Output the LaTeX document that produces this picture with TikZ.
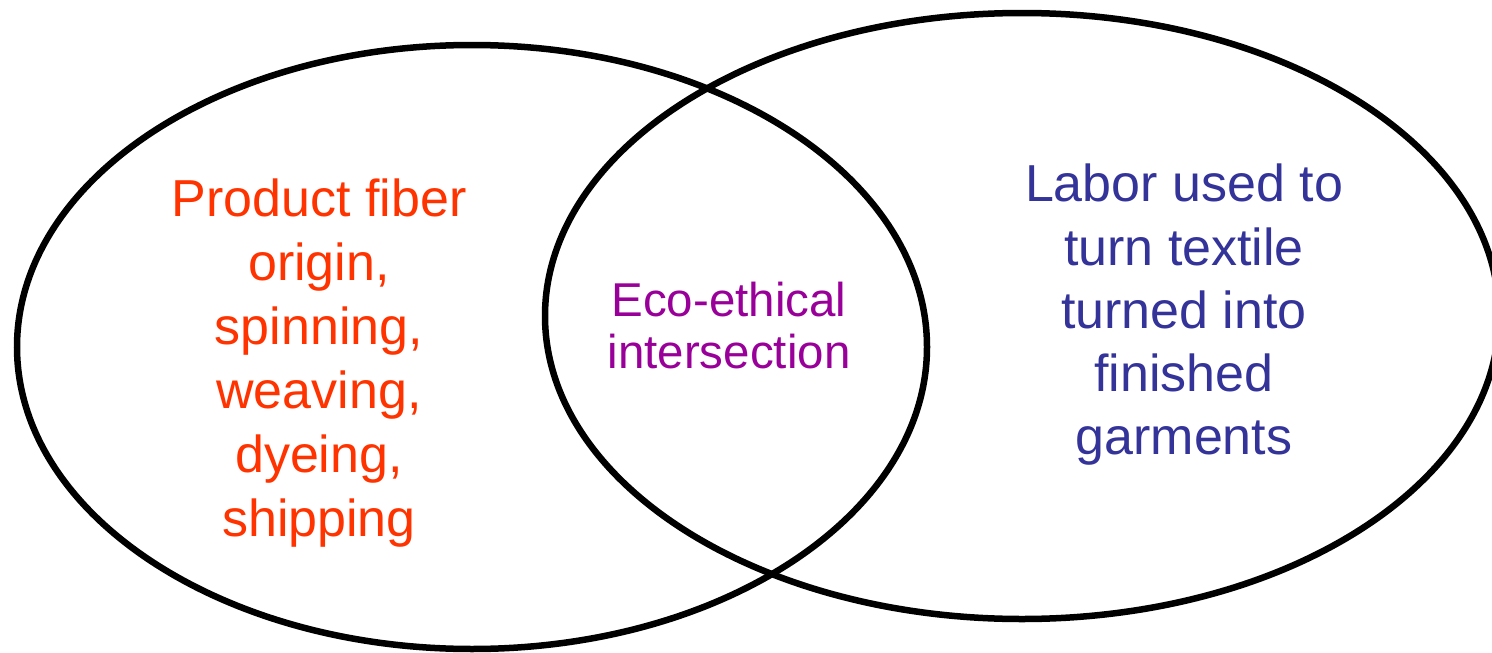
\documentclass[tikz,border=0pt]{standalone}
\usepackage{fontspec}
\setmainfont{Liberation Sans}
\definecolor{leftcol}{HTML}{FF3300}
\definecolor{midcol}{HTML}{990099}
\definecolor{rightcol}{HTML}{333399}
\begin{document}
\begin{tikzpicture}[x=1pt,y=-1pt,
  setring/.style={draw=black,line width=6.5pt},
  bigtext/.style={align=center,inner sep=0pt,font=\fontsize{52}{64}\selectfont},
  midtext/.style={align=center,inner sep=0pt,font=\fontsize{47.5}{52}\selectfont}]
\useasboundingbox (0,0) rectangle (1492,653);
\draw[setring] (472,347) ellipse [x radius=455, y radius=302];
\draw[setring] (1022,316) ellipse [x radius=477, y radius=303];
\node[bigtext,text=leftcol] (lefttxt) at (319,363.5) {Product fiber\\origin,\\spinning,\\weaving,\\dyeing,\\shipping};
\node[midtext,text=midcol] (midtxt) at (729,326) {Eco-ethical\\intersection};
\node[bigtext,text=rightcol,font=\fontsize{52}{63.25}\selectfont] (righttxt) at (1184,315) {Labor used to\\turn textile\\turned into\\finished\\garments};
\end{tikzpicture}
\end{document}
